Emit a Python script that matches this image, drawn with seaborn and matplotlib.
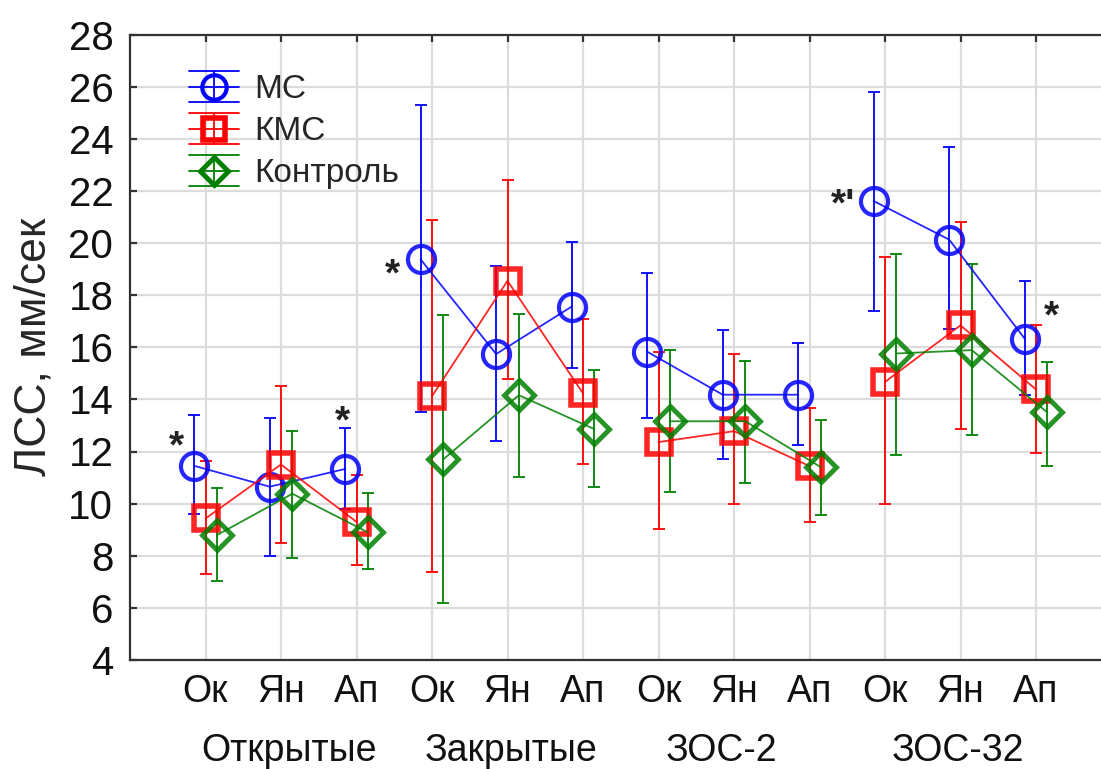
import matplotlib
matplotlib.use("Agg")
import matplotlib.pyplot as plt
from matplotlib.lines import Line2D
from matplotlib.legend_handler import HandlerBase
import matplotlib.transforms as mtransforms
import numpy as np
import pandas as pd
import seaborn as sns

# ---------------- data ----------------
groups = ["Открытые", "Закрытые", "ЗОС-2", "ЗОС-32"]
months = ["Ок", "Ян", "Ап"]
series = ["МС", "КМС", "Контроль"]

ms_mean = [11.45, 10.65, 11.33, 19.37, 15.74, 17.56, 15.83, 14.18, 14.18, 21.61, 20.13, 16.33]
ms_low = [9.6, 8.0, 9.8, 13.5, 12.4, 15.2, 13.3, 11.7, 12.24, 17.4, 16.7, 14.16]
ms_high = [13.4, 13.3, 12.9, 25.3, 19.1, 20.03, 18.85, 16.66, 16.18, 25.78, 23.68, 18.54]

kms_mean = [9.43, 11.5, 9.3, 14.12, 18.55, 14.23, 12.36, 12.78, 11.44, 14.67, 16.84, 14.38]
kms_low = [7.3, 8.5, 7.63, 7.38, 14.78, 11.53, 9.04, 10.0, 9.31, 9.97, 12.86, 11.95]
kms_high = [11.65, 14.5, 11.1, 20.88, 22.42, 17.1, 15.83, 15.75, 13.67, 19.46, 20.8, 16.87]

ctl_mean = [8.79, 10.38, 8.9, 11.7, 14.16, 12.86, 13.16, 13.16, 11.4, 15.76, 15.89, 13.5]
ctl_low = [7.03, 7.93, 7.5, 6.2, 11.04, 10.63, 10.45, 10.78, 9.57, 11.86, 12.65, 11.44]
ctl_high = [10.6, 12.8, 10.4, 17.22, 17.29, 15.12, 15.9, 15.48, 13.22, 19.59, 19.18, 15.44]

# significance marks: (text, x position, y center value)
sig_marks = [("*", -0.39, 12.63), ("*", 1.82, 13.59), ("*", 2.47, 19.22),
             ("*'", 8.44, 21.92), ("*", 11.21, 17.6)]
group_label_x = [1.1, 4.05, 6.83, 9.97]

# ---------------- styling ----------------
sns.set_theme(style="white")
plt.rcParams["font.family"] = ["Liberation Sans", "DejaVu Sans"]

colors = {"МС": "#0000ff", "КМС": "#ff0000", "Контроль": "#008000"}
markers = {"МС": "o", "КМС": "s", "Контроль": "D"}
msizes = {"МС": 19.5, "КМС": 17.5, "Контроль": 15.5}
mews = {"МС": 3.0, "КМС": 4.0, "Контроль": 3.5}
offsets = {"МС": -0.15, "КМС": 0.0, "Контроль": 0.15}

means = {"МС": ms_mean, "КМС": kms_mean, "Контроль": ctl_mean}
lows = {"МС": ms_low, "КМС": kms_low, "Контроль": ctl_low}
highs = {"МС": ms_high, "КМС": kms_high, "Контроль": ctl_high}

rows = []
for s in series:
    for i in range(len(groups) * len(months)):
        rows.append({"series": s, "group": groups[i // 3], "pos": i,
                     "x": i + offsets[s], "mean": means[s][i],
                     "low": lows[s][i], "high": highs[s][i]})
df = pd.DataFrame(rows)

W, H = 1101, 769
fig = plt.figure(figsize=(W / 100, H / 100), dpi=100)
ax = fig.add_axes([130 / W, 109 / H, 981.5 / W, 625.5 / H])

for s in series:
    sub = df[df["series"] == s]
    c = colors[s]
    ax.errorbar(sub["x"], sub["mean"],
                yerr=[sub["mean"] - sub["low"], sub["high"] - sub["mean"]],
                fmt="none", ecolor=c, elinewidth=1.3, capsize=4, capthick=1.3,
                zorder=2)
    sns.lineplot(data=sub, x="x", y="mean", units="group", estimator=None,
                 color=c, lw=1.3, alpha=0.85, marker=markers[s], ms=msizes[s],
                 mfc="none", mec=c, mew=mews[s], ax=ax, zorder=3, legend=False)

ax.set_xlim(-1, 12)
ax.set_ylim(4, 28)
ax.set_yticks(np.arange(4, 29, 2))
ax.set_xticks(range(12))
ax.set_xticklabels(months * len(groups))
ax.set_xlabel("")
ax.set_ylabel("ЛСС, мм/сек", fontsize=32, labelpad=10)

ax.grid(True, color="#dcdcdc", lw=1.6)
ax.set_axisbelow(True)
for side in ["left", "top", "bottom"]:
    ax.spines[side].set_color("#333333")
    ax.spines[side].set_linewidth(1.6)
ax.spines["right"].set_visible(False)
ax.tick_params(axis="both", direction="in", length=5, width=1.6, color="#333333",
               top=True, left=True, right=False, labelsize=29, labelcolor="#111111")
ax.tick_params(axis="y", pad=12)
ax.tick_params(axis="x", pad=10, labelsize=27)

trans = mtransforms.blended_transform_factory(ax.transData, ax.transAxes)
for g, gx in zip(groups, group_label_x):
    ax.text(gx, -0.146, g, transform=trans, ha="center", va="center",
            fontsize=27, color="#111111")

for txt, x, yc in sig_marks:
    ax.text(x, yc - 0.85, txt, ha="center", va="baseline", fontsize=28,
            color="#222222", fontweight="bold")


# legend with Statistica-like handles
class StatHandler(HandlerBase):
    def create_artists(self, legend, orig_handle, xdescent, ydescent, width,
                       height, fontsize, trans):
        c = orig_handle.get_color()
        yc = height / 2 - ydescent
        xc = width / 2 - xdescent
        h = height * 0.6
        arts = []
        for dy in (-h, 0, h):
            ln = Line2D([-xdescent, width - xdescent], [yc + dy, yc + dy],
                        color=c, lw=1.3)
            ln.set_transform(trans)
            arts.append(ln)
        vl = Line2D([xc, xc], [yc - h, yc + h], color=c, lw=1.3)
        vl.set_transform(trans)
        arts.append(vl)
        mk = Line2D([xc], [yc], marker=orig_handle.get_marker(),
                    ms=orig_handle.get_markersize(), mfc="none", mec=c,
                    mew=orig_handle.get_markeredgewidth(), ls="none")
        mk.set_transform(trans)
        arts.append(mk)
        return arts


handles = [Line2D([], [], color=colors[s], marker=markers[s], ms=msizes[s] * 0.9,
                  mew=mews[s], mfc="none") for s in series]
ax.legend(handles, series, loc="upper left", bbox_to_anchor=(0.03, 0.985),
          frameon=False, fontsize=24, handlelength=1.5, handleheight=0.8,
          labelspacing=0.32, handletextpad=0.45,
          handler_map={Line2D: StatHandler()})

fig.savefig("out.png", dpi=100)
